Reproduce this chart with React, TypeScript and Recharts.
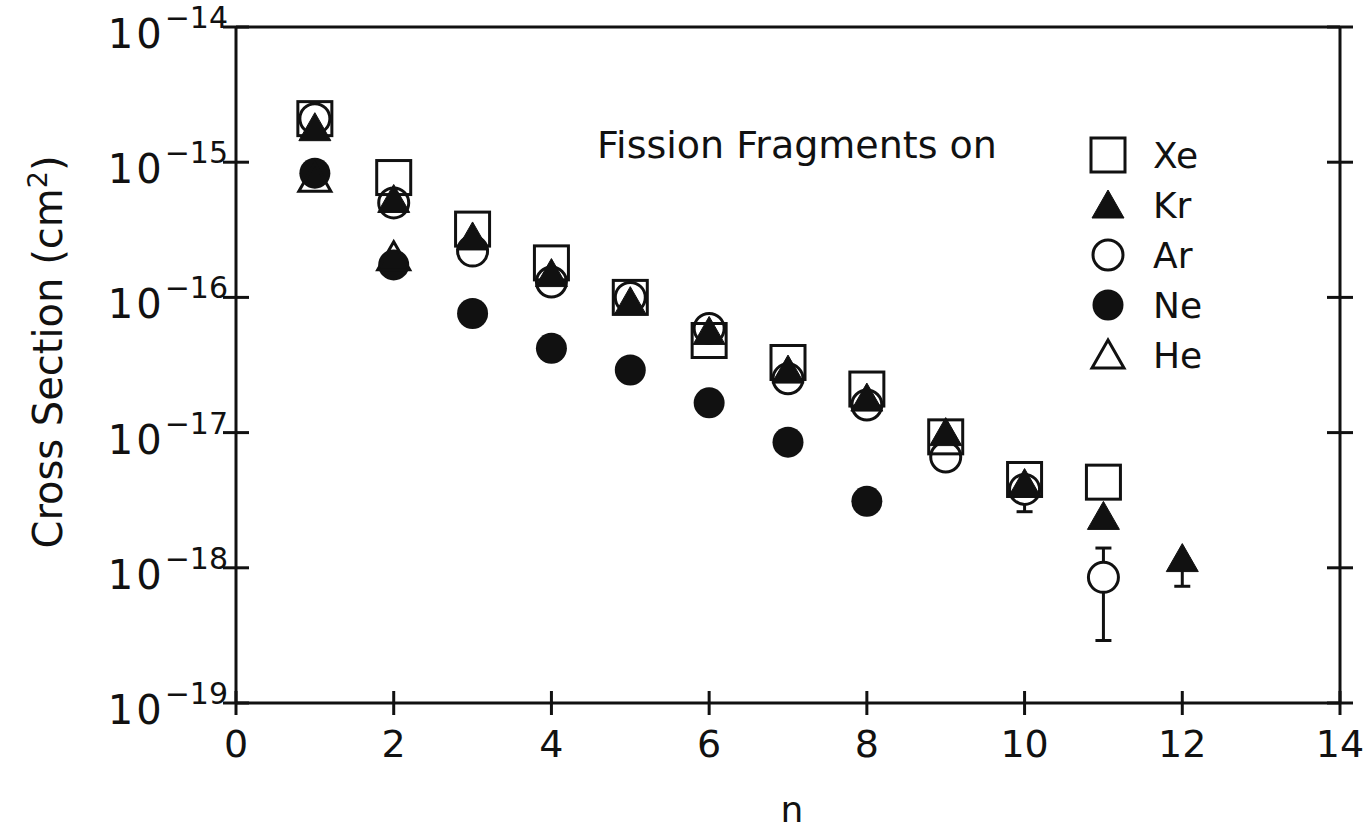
import React from 'react'
import {
  ScatterChart,
  Scatter,
  XAxis,
  YAxis,
  ErrorBar,
  Customized,
} from 'recharts'

// number of collisions n, cross sections in cm^2
const xeN = [1, 2, 3, 4, 5, 6, 7, 8, 9, 10, 11]
const xeSigma = [2.1e-15, 7.7e-16, 3.2e-16, 1.8e-16, 1.0e-16, 4.8e-17, 3.3e-17, 2.1e-17, 9.3e-18, 4.5e-18, 4.3e-18]

const krN = [1, 2, 3, 4, 5, 6, 7, 8, 9, 10, 11, 12]
const krSigma = [1.8e-15, 5.3e-16, 2.8e-16, 1.5e-16, 9.3e-17, 5.6e-17, 2.9e-17, 1.8e-17, 1.0e-17, 4.2e-18, 2.4e-18, 1.17e-18]
const krErr = [null, null, null, null, null, null, null, null, null, null, null, [4.4e-19, 0]]

const arN = [1, 2, 3, 4, 5, 6, 7, 8, 9, 10, 11]
const arSigma = [2.1e-15, 5.0e-16, 2.2e-16, 1.3e-16, 1.0e-16, 5.9e-17, 2.5e-17, 1.6e-17, 6.6e-18, 3.8e-18, 8.5e-19]
const arErr = [null, null, null, null, null, null, null, null, null, [1.2e-18, 0.6e-18], [5.6e-19, 5.5e-19]]

const neN = [1, 2, 3, 4, 5, 6, 7, 8]
const neSigma = [8.3e-16, 1.74e-16, 7.6e-17, 4.2e-17, 2.9e-17, 1.66e-17, 8.5e-18, 3.1e-18]

const heN = [1, 2]
const heSigma = [7.6e-16, 2.0e-16]

const xTicks = [0, 2, 4, 6, 8, 10, 12, 14]
const yTicks = [1e-19, 1e-18, 1e-17, 1e-16, 1e-15, 1e-14]
const yTickExp = ['−19', '−18', '−17', '−16', '−15', '−14']

const legendNames = ['Xe', 'Kr', 'Ar', 'Ne', 'He']
const legendSymbols = ['square', 'triFilled', 'circle', 'dot', 'triOpen']

const FONT = '"DejaVu Sans", sans-serif'
const INK = '#111'

const W = 1370
const H = 832
const PL = 236
const PR = 1340
const PT = 27
const PB = 703
const AX = 1 // thickness reserved by each axis

const toRows = (ns: number[], vals: number[], errs?: any[]) =>
  ns.map((n, i) => ({ n, s: vals[i], err: errs ? errs[i] : undefined }))

const Symbol = ({ kind, cx, cy }: any) => {
  if (kind === 'square')
    return <rect x={cx - 17} y={cy - 17} width={34} height={34} fill="none" stroke={INK} strokeWidth={3} />
  if (kind === 'circle')
    return <circle cx={cx} cy={cy} r={15} fill="#fff" stroke={INK} strokeWidth={3} />
  if (kind === 'dot') return <circle cx={cx} cy={cy} r={15.5} fill={INK} />
  const pts = `${cx},${cy - 15} ${cx + 16},${cy + 13} ${cx - 16},${cy + 13}`
  if (kind === 'triFilled') return <polygon points={pts} fill={INK} stroke={INK} strokeWidth={1} />
  return <polygon points={pts} fill="none" stroke={INK} strokeWidth={3} strokeLinejoin="miter" />
}

const shapeOf = (kind: string) => (props: any) => <Symbol kind={kind} cx={props.cx} cy={props.cy} />

const XTick = ({ payload }: any) => {
  const x = payload.coordinate
  return (
    <g>
      <line x1={x} x2={x} y1={PB - 12} y2={PB + 12} stroke={INK} strokeWidth={3} />
      <text x={x} y={PB + 54} textAnchor="middle" fontSize={38} fontFamily={FONT} fill={INK}>
        {payload.value}
      </text>
    </g>
  )
}

const YTick = ({ payload, index }: any) => {
  const y = payload.coordinate
  return (
    <g>
      <line x1={PL - 13} x2={PL + 13} y1={y} y2={y} stroke={INK} strokeWidth={3} />
      <text x={PL - 8} y={y + 21} textAnchor="end" fontFamily={FONT} fill={INK}>
        <tspan fontSize={40} letterSpacing={3}>10</tspan>
        <tspan fontSize={30} dy={-20}>{yTickExp[index]}</tspan>
      </text>
    </g>
  )
}

const RightTick = ({ payload }: any) => {
  const y = payload.coordinate
  return <line x1={PR - 13} x2={PR + 13} y1={y} y2={y} stroke={INK} strokeWidth={3} />
}

const Annotations = () => (
  <g fontFamily={FONT} fill={INK}>
    <text x={597} y={158} fontSize={38}>Fission Fragments on</text>
    <text x={792} y={822} fontSize={36} textAnchor="middle">n</text>
    <text x={48} y={352} fontSize={40} textAnchor="middle" dy="0.35em" transform="rotate(-90 48 352)">
      Cross Section (cm<tspan fontSize={27} dy={-15}>2</tspan><tspan dy={15}>)</tspan>
    </text>
    {legendNames.map((name, i) => (
      <g key={name}>
        <Symbol kind={legendSymbols[i]} cx={1108} cy={155 + i * 50} />
        <text x={1153} y={155 + i * 50 + 13} fontSize={36}>{name}</text>
      </g>
    ))}
  </g>
)

export default function App() {
  return (
    <div style={{ position: 'absolute', left: 0, top: 0, background: '#fff' }}>
      <ScatterChart
        width={W}
        height={H}
        margin={{ top: PT - AX, right: W - PR - AX, bottom: H - PB - AX, left: PL - AX }}
      >
        <XAxis
          xAxisId="b"
          type="number"
          dataKey="n"
          domain={[0, 14]}
          ticks={xTicks}
          height={AX}
          tickLine={false}
          tickSize={0}
          axisLine={{ stroke: INK, strokeWidth: 3 }}
          tick={<XTick />}
          allowDataOverflow
        />
        <XAxis
          xAxisId="t"
          orientation="top"
          type="number"
          dataKey="n"
          domain={[0, 14]}
          height={AX}
          tick={false}
          tickLine={false}
          axisLine={{ stroke: INK, strokeWidth: 3 }}
        />
        <YAxis
          yAxisId="l"
          type="number"
          dataKey="s"
          scale="log"
          domain={[1e-19, 1e-14]}
          ticks={yTicks}
          width={AX}
          tickLine={false}
          tickSize={0}
          axisLine={{ stroke: INK, strokeWidth: 3 }}
          tick={<YTick />}
          allowDataOverflow
        />
        <YAxis
          yAxisId="r"
          orientation="right"
          type="number"
          dataKey="s"
          scale="log"
          domain={[1e-19, 1e-14]}
          ticks={yTicks}
          width={AX}
          tickLine={false}
          tickSize={0}
          axisLine={{ stroke: INK, strokeWidth: 3 }}
          tick={<RightTick />}
          allowDataOverflow
        />
        <Scatter name="Ar" data={toRows(arN, arSigma, arErr)} xAxisId="b" yAxisId="l" shape={shapeOf('circle')} isAnimationActive={false}>
          <ErrorBar dataKey="err" direction="y" width={8} stroke={INK} strokeWidth={3} isAnimationActive={false} />
        </Scatter>
        <Scatter name="Xe" data={toRows(xeN, xeSigma)} xAxisId="b" yAxisId="l" shape={shapeOf('square')} isAnimationActive={false} />
        <Scatter name="Kr" data={toRows(krN, krSigma, krErr)} xAxisId="b" yAxisId="l" shape={shapeOf('triFilled')} isAnimationActive={false}>
          <ErrorBar dataKey="err" direction="y" width={8} stroke={INK} strokeWidth={3} isAnimationActive={false} />
        </Scatter>
        <Scatter name="Ne" data={toRows(neN, neSigma)} xAxisId="b" yAxisId="l" shape={shapeOf('dot')} isAnimationActive={false} />
        <Scatter name="He" data={toRows(heN, heSigma)} xAxisId="b" yAxisId="l" shape={shapeOf('triOpen')} isAnimationActive={false} />
        <Customized component={Annotations} />
      </ScatterChart>
    </div>
  )
}
